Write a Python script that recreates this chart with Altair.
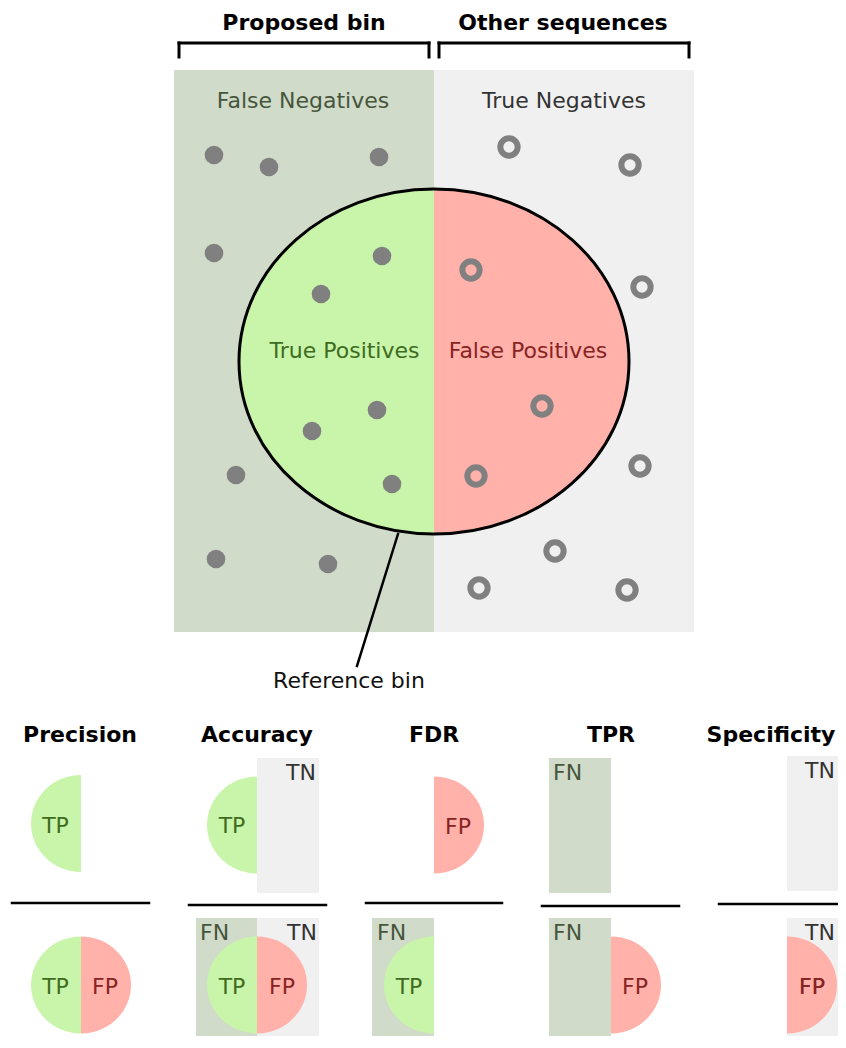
import altair as alt
import pandas as pd

# ---------------- data (reference pixel coordinates) ----------------
# Region rectangles: FN = proposed-bin area, TN = other sequences
rect_kind = ["FN", "TN", "TN", "FN", "TN", "FN", "FN", "FN", "TN", "TN"]
rect_x = [174, 434, 257, 196, 257, 372, 549, 549, 787, 787]
rect_x2 = [434, 694, 319, 257, 319, 434, 611, 611, 880, 880]
rect_y = [70, 70, 758, 918, 918, 918, 758, 918, 756, 918]
rect_y2 = [632, 632, 893, 1060, 1060, 1060, 893, 1060, 891, 1060]

# Half ellipses: TP = left half (green), FP = right half (red)
half_kind = ["TP", "FP", "TP", "TP", "FP", "TP", "TP", "FP", "FP", "TP", "FP", "FP"]
half_cx = [434, 434, 81, 81, 81, 257, 257, 257, 434, 434, 611, 787]
half_cy = [361.5, 361.5, 823.5, 985, 985, 825, 985, 985, 825, 985, 985, 985]
half_rx = [195, 195, 50, 50, 50, 50, 50, 50, 50, 50, 50, 50]
half_ry = [172.5, 172.5, 48.5, 48.5, 48.5, 48.5, 48.5, 48.5, 48.5, 48.5, 48.5, 48.5]

# Sequences in the proposed bin (filled) and outside (rings)
filled_x = [214, 269, 379, 214, 382, 321, 377, 312, 236, 392, 216, 328]
filled_y = [155, 167, 157, 253, 256, 294, 410, 431, 475, 484, 559, 564]
ring_x = [509, 630, 471, 642, 542, 640, 476, 555, 479, 627]
ring_y = [147, 165, 270, 287, 406, 466, 476, 551, 588, 590]

# Lines: brackets, fraction bars, reference-bin pointer
line_x = [179, 439, 179, 429, 439, 689, 12, 189, 366, 542, 719, 398]
line_x2 = [429, 689, 179, 429, 439, 689, 149, 326, 502, 679, 880, 357]
line_y = [43, 43, 43, 43, 43, 43, 903, 905, 903, 906, 904, 534]
line_y2 = [43, 43, 57, 57, 57, 57, 903, 905, 903, 906, 904, 666]
line_w = [3, 3, 3, 3, 3, 3, 2.5, 2.5, 2.5, 2.5, 2.5, 2.5]

# Bold headings
head_text = ["Proposed bin", "Other sequences", "Precision", "Accuracy", "FDR", "TPR", "Specificity"]
head_x = [304, 563, 80, 257, 434, 611, 771]
head_y = [30, 30, 742, 742, 742, 742, 742]

# Centered labels
lab_text = ["False Negatives", "True Negatives", "True Positives", "False Positives", "Reference bin",
            "TP", "TP", "FP", "TP", "FP", "TP", "FP", "TP", "FP", "FP", "FP"]
lab_kind = ["FN", "TN", "TP", "FP", "REF",
            "TP", "TP", "FP", "TP", "FP", "TP", "FP", "TP", "FP", "FP", "FP"]
lab_x = [303, 564, 344.5, 528, 349,
         55.5, 55.5, 105, 232, 282, 232, 458, 409, 635, 812, 812]
lab_y = [108, 108, 358, 358, 688,
         833, 994, 994, 833, 994, 994, 834, 994, 994, 994, 994]

# Corner labels (left aligned)
corner_text = ["TN", "TN", "FN", "FN", "TN", "FN", "FN", "TN"]
corner_x = [286, 287, 200, 377, 805, 553, 553, 805]
corner_y = [780, 940, 940, 940, 778, 780, 940, 940]

colors = {"FN": "#d0dbc9", "TN": "#f0f0f0", "TP": "#c8f5a9", "FP": "#ffb1aa"}
text_colors = {"FN": "#46553c", "TN": "#333333", "TP": "#3f6b1f", "FP": "#882323", "REF": "#111111"}

K = 0.5523


def half_path(kind, ratio):
    r = ratio
    s = -1 if kind == "TP" else 1
    return (f"M0,{-r} C{s*K},{-r} {s},{-K*r} {s},0 "
            f"C{s},{K*r} {s*K},{r} 0,{r} Z")


def full_path(ratio):
    r = ratio
    return (f"M0,{-r} C{K},{-r} 1,{-K*r} 1,0 C1,{K*r} {K},{r} 0,{r} "
            f"C{-K},{r} -1,{K*r} -1,0 C-1,{-K*r} {-K},{-r} 0,{-r} Z")


# ---------------- tables ----------------
rects = pd.DataFrame({"x": rect_x, "x2": rect_x2, "y": rect_y, "y2": rect_y2,
                      "c": [colors[k] for k in rect_kind]})
halves = pd.DataFrame({
    "x": half_cx, "y": half_cy,
    "shape": [half_path(k, ry / rx) for k, rx, ry in zip(half_kind, half_rx, half_ry)],
    "size": [(2 * rx) ** 2 for rx in half_rx],
    "c": [colors[k] for k in half_kind]})
outline = pd.DataFrame({"x": [half_cx[0]], "y": [half_cy[0]],
                        "shape": [full_path(half_ry[0] / half_rx[0])],
                        "size": [(2 * half_rx[0]) ** 2]})
filled = pd.DataFrame({"x": filled_x, "y": filled_y})
rings = pd.DataFrame({"x": ring_x, "y": ring_y})
lines = pd.DataFrame({"x": line_x, "x2": line_x2, "y": line_y, "y2": line_y2, "w": line_w})
heads = pd.DataFrame({"x": head_x, "y": head_y, "t": head_text})
labs = pd.DataFrame({"x": lab_x, "y": lab_y, "t": lab_text,
                     "c": [text_colors[k] for k in lab_kind]})
corners = pd.DataFrame({"x": corner_x, "y": corner_y, "t": corner_text,
                        "c": [text_colors[k] for k in corner_text]})

W, H = 830, 1028
X0, Y0 = 8, 8
xs = alt.Scale(domain=[X0, X0 + W], nice=False, zero=False)
ys = alt.Scale(domain=[Y0, Y0 + H], nice=False, zero=False, reverse=True)


def X(f="x"):
    return alt.X(f"{f}:Q", scale=xs, axis=None)


def Y(f="y"):
    return alt.Y(f"{f}:Q", scale=ys, axis=None)


FONT = "DejaVu Sans"
FS = 22

rect_layer = alt.Chart(rects).mark_rect(strokeWidth=0).encode(
    x=X(), x2=alt.X2("x2"), y=Y(), y2=alt.Y2("y2"),
    color=alt.Color("c:N", scale=None))

half_layer = alt.Chart(halves).mark_point(filled=True, opacity=1, strokeWidth=0).encode(
    x=X(), y=Y(),
    shape=alt.Shape("shape:N", scale=None),
    size=alt.Size("size:Q", scale=None),
    color=alt.Color("c:N", scale=None))

dot_layer = alt.Chart(filled).mark_point(filled=True, opacity=1, color="#808080",
                                         size=346, shape="circle", strokeWidth=0).encode(
    x=X(), y=Y())

ring_layer = alt.Chart(rings).mark_point(filled=False, opacity=1, color="#808080",
                                         size=300, shape="circle", strokeWidth=6).encode(
    x=X(), y=Y())

outline_layer = alt.Chart(outline).mark_point(filled=False, opacity=1, color="#000000",
                                              strokeWidth=3).encode(
    x=X(), y=Y(),
    shape=alt.Shape("shape:N", scale=None),
    size=alt.Size("size:Q", scale=None))

line_layer = alt.Chart(lines).mark_rule(color="#000000", strokeCap="square").encode(
    x=X(), x2=alt.X2("x2"), y=Y(), y2=alt.Y2("y2"),
    strokeWidth=alt.StrokeWidth("w:Q", scale=None))

head_layer = alt.Chart(heads).mark_text(font=FONT, fontSize=FS, fontWeight="bold",
                                        align="center", baseline="alphabetic",
                                        color="#000000").encode(
    x=X(), y=Y(), text="t:N")

lab_layer = alt.Chart(labs).mark_text(font=FONT, fontSize=FS, align="center",
                                      baseline="alphabetic").encode(
    x=X(), y=Y(), text="t:N", color=alt.Color("c:N", scale=None))

corner_layer = alt.Chart(corners).mark_text(font=FONT, fontSize=FS, align="left",
                                            baseline="alphabetic").encode(
    x=X(), y=Y(), text="t:N", color=alt.Color("c:N", scale=None))

chart = alt.layer(
    rect_layer, half_layer, dot_layer, ring_layer, line_layer, outline_layer,
    head_layer, lab_layer, corner_layer
).properties(
    width=W, height=H, padding=0, autosize="none", background="white"
).configure_view(stroke=None)

chart.save("out.html", embed_options={"renderer": "svg", "actions": False})
